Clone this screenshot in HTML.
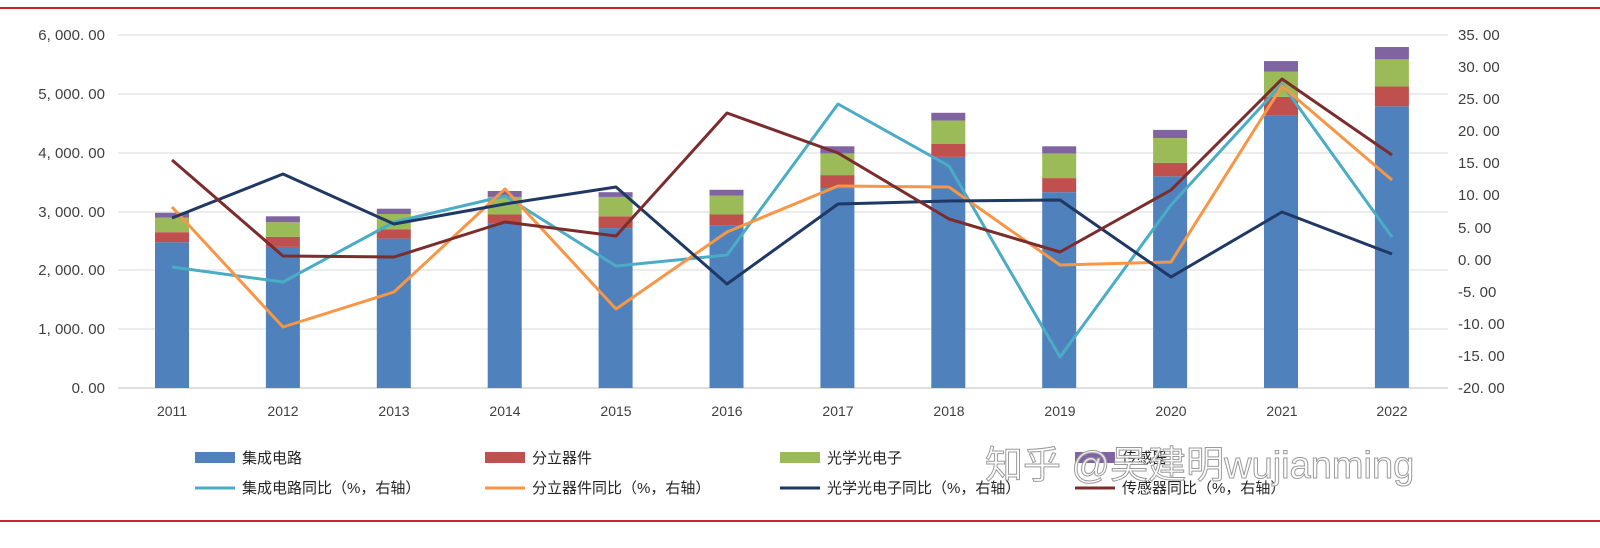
<!DOCTYPE html>
<html><head><meta charset="utf-8"><style>
body{margin:0;background:#fff;}
svg{display:block;font-family:"Liberation Sans","Noto Sans CJK SC",sans-serif;}
</style></head><body>
<svg width="1600" height="548" viewBox="0 0 1600 548">
<rect x="0" y="7" width="1600" height="2" fill="#c8262b"/>
<rect x="0" y="520" width="1600" height="2" fill="#c8262b"/>
<g stroke="#d9d9d9" stroke-width="1">
<line x1="118" x2="1448" y1="35" y2="35"/><line x1="118" x2="1448" y1="94" y2="94"/>
<line x1="118" x2="1448" y1="153" y2="153"/><line x1="118" x2="1448" y1="212" y2="212"/>
<line x1="118" x2="1448" y1="270" y2="270"/><line x1="118" x2="1448" y1="329" y2="329"/>
</g>
<line x1="118" x2="1448" y1="388" y2="388" stroke="#bfbfbf"/>
<g font-size="15" fill="#404040" text-anchor="end">
<text x="105" y="40">6, 000. 00</text><text x="105" y="99">5, 000. 00</text>
<text x="105" y="158">4, 000. 00</text><text x="105" y="217">3, 000. 00</text>
<text x="105" y="275">2, 000. 00</text><text x="105" y="334">1, 000. 00</text>
<text x="105" y="393">0. 00</text>
</g>
<g font-size="15" fill="#404040" text-anchor="start">
<text x="1458" y="40">35. 00</text><text x="1458" y="72">30. 00</text><text x="1458" y="104">25. 00</text>
<text x="1458" y="136">20. 00</text><text x="1458" y="168">15. 00</text><text x="1458" y="200">10. 00</text>
<text x="1458" y="233">5. 00</text><text x="1458" y="265">0. 00</text><text x="1458" y="297">-5. 00</text>
<text x="1458" y="329">-10. 00</text><text x="1458" y="361">-15. 00</text><text x="1458" y="393">-20. 00</text>
</g>
<g font-size="14" fill="#404040" text-anchor="middle">
<text x="172" y="416">2011</text><text x="283" y="416">2012</text><text x="394" y="416">2013</text>
<text x="505" y="416">2014</text><text x="616" y="416">2015</text><text x="727" y="416">2016</text>
<text x="838" y="416">2017</text><text x="949" y="416">2018</text><text x="1060" y="416">2019</text>
<text x="1171" y="416">2020</text><text x="1282" y="416">2021</text><text x="1392" y="416">2022</text>
</g>
<g>
<rect x="155" y="242.2" width="34" height="145.8" fill="#4f81bd"/><rect x="155" y="232.2" width="34" height="10" fill="#c0504d"/><rect x="155" y="217.5" width="34" height="14.7" fill="#9bbb59"/><rect x="155" y="212.8" width="34" height="4.7" fill="#8064a2"/>
<rect x="265.9" y="246.9" width="34" height="141.1" fill="#4f81bd"/><rect x="265.9" y="236.9" width="34" height="10" fill="#c0504d"/><rect x="265.9" y="222.2" width="34" height="14.7" fill="#9bbb59"/><rect x="265.9" y="216.3" width="34" height="5.9" fill="#8064a2"/>
<rect x="376.8" y="238.6" width="34" height="149.4" fill="#4f81bd"/><rect x="376.8" y="229.2" width="34" height="9.4" fill="#c0504d"/><rect x="376.8" y="214" width="34" height="15.2" fill="#9bbb59"/><rect x="376.8" y="208.7" width="34" height="5.3" fill="#8064a2"/>
<rect x="487.7" y="223.4" width="34" height="164.6" fill="#4f81bd"/><rect x="487.7" y="214.5" width="34" height="8.9" fill="#c0504d"/><rect x="487.7" y="196.9" width="34" height="17.6" fill="#9bbb59"/><rect x="487.7" y="191" width="34" height="5.9" fill="#8064a2"/>
<rect x="598.6" y="228.1" width="34" height="159.9" fill="#4f81bd"/><rect x="598.6" y="216.3" width="34" height="11.8" fill="#c0504d"/><rect x="598.6" y="196.9" width="34" height="19.4" fill="#9bbb59"/><rect x="598.6" y="192.2" width="34" height="4.7" fill="#8064a2"/>
<rect x="709.5" y="225.1" width="34" height="162.9" fill="#4f81bd"/><rect x="709.5" y="214.5" width="34" height="10.6" fill="#c0504d"/><rect x="709.5" y="195.7" width="34" height="18.8" fill="#9bbb59"/><rect x="709.5" y="189.8" width="34" height="5.9" fill="#8064a2"/>
<rect x="820.4" y="188.1" width="34" height="199.9" fill="#4f81bd"/><rect x="820.4" y="175.1" width="34" height="13" fill="#c0504d"/><rect x="820.4" y="153.4" width="34" height="21.7" fill="#9bbb59"/><rect x="820.4" y="146.3" width="34" height="7.1" fill="#8064a2"/>
<rect x="931.3" y="156.9" width="34" height="231.1" fill="#4f81bd"/><rect x="931.3" y="144" width="34" height="12.9" fill="#c0504d"/><rect x="931.3" y="120.5" width="34" height="23.5" fill="#9bbb59"/><rect x="931.3" y="112.8" width="34" height="7.7" fill="#8064a2"/>
<rect x="1042.2" y="192.2" width="34" height="195.8" fill="#4f81bd"/><rect x="1042.2" y="178.1" width="34" height="14.1" fill="#c0504d"/><rect x="1042.2" y="153.4" width="34" height="24.7" fill="#9bbb59"/><rect x="1042.2" y="146.3" width="34" height="7.1" fill="#8064a2"/>
<rect x="1153.1" y="176.3" width="34" height="211.7" fill="#4f81bd"/><rect x="1153.1" y="162.8" width="34" height="13.5" fill="#c0504d"/><rect x="1153.1" y="138.1" width="34" height="24.7" fill="#9bbb59"/><rect x="1153.1" y="129.9" width="34" height="8.2" fill="#8064a2"/>
<rect x="1264" y="115.8" width="34" height="272.2" fill="#4f81bd"/><rect x="1264" y="96.9" width="34" height="18.9" fill="#c0504d"/><rect x="1264" y="71.7" width="34" height="25.2" fill="#9bbb59"/><rect x="1264" y="61.1" width="34" height="10.6" fill="#8064a2"/>
<rect x="1374.9" y="106.3" width="34" height="281.7" fill="#4f81bd"/><rect x="1374.9" y="86.4" width="34" height="19.9" fill="#c0504d"/><rect x="1374.9" y="59.3" width="34" height="27.1" fill="#9bbb59"/><rect x="1374.9" y="47" width="34" height="12.3" fill="#8064a2"/>
</g>
<g fill="none" stroke-width="3" stroke-linejoin="round">
<polyline stroke="#4bacc6" points="172,267 283,282 394,222 505,196 616,266 727,255 838,104 949,166 1060,357 1171,205 1282,84 1392,237"/>
<polyline stroke="#f79646" points="172,207 283,327 394,292 505,189 616,309 727,232 838,186 949,187 1060,265 1171,262 1282,86 1392,180"/>
<polyline stroke="#1f3864" points="172,218 283,174 394,224 505,204 616,187 727,284 838,204 949,201 1060,200 1171,277 1282,212 1392,254"/>
<polyline stroke="#7b2c2c" points="172,160 283,256 394,257 505,222 616,236 727,113 838,153 949,219 1060,252 1171,190 1282,79 1392,155"/>
</g>
<g font-size="15" fill="#262626">
<rect x="195" y="452" width="40" height="11" fill="#4f81bd"/><text x="242" y="463">集成电路</text>
<rect x="485" y="452" width="40" height="11" fill="#c0504d"/><text x="532" y="463">分立器件</text>
<rect x="780" y="452" width="40" height="11" fill="#9bbb59"/><text x="827" y="463">光学光电子</text>
<rect x="1075" y="452" width="40" height="11" fill="#8064a2"/><text x="1122" y="463">传感器</text>
<line x1="195" x2="235" y1="488" y2="488" stroke="#4bacc6" stroke-width="3"/><text x="242" y="493">集成电路同比（%，右轴）</text>
<line x1="485" x2="525" y1="488" y2="488" stroke="#f79646" stroke-width="3"/><text x="532" y="493">分立器件同比（%，右轴）</text>
<line x1="780" x2="820" y1="488" y2="488" stroke="#1f3864" stroke-width="3"/><text x="827" y="493">光学光电子同比（%，右轴）</text>
<line x1="1075" x2="1115" y1="488" y2="488" stroke="#7b2c2c" stroke-width="3"/><text x="1122" y="493">传感器同比（%，右轴）</text>
</g>
<text x="985" y="478" font-size="38" fill="#ffffff" fill-opacity="0.85" stroke="#9a9a9a" stroke-width="1">知乎 @吴建明wujianming</text>
</svg>
</body></html>
